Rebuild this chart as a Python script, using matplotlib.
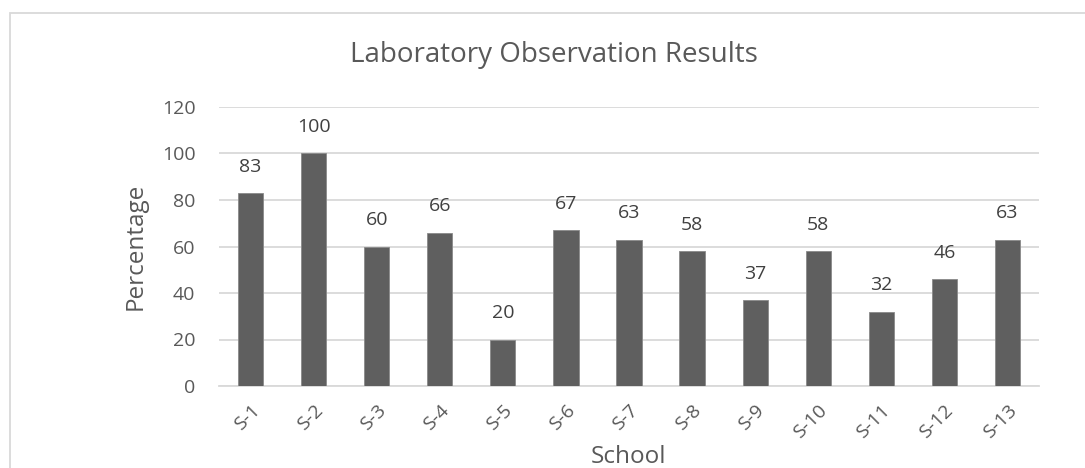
import matplotlib.pyplot as plt
import matplotlib.patches as mpatches

schools = ["S-1", "S-2", "S-3", "S-4", "S-5", "S-6", "S-7", "S-8", "S-9",
           "S-10", "S-11", "S-12", "S-13"]
percentages = [83, 100, 60, 66, 20, 67, 63, 58, 37, 58, 32, 46, 63]
y_ticks = [0, 20, 40, 60, 80, 100, 120]

plt.rcParams['font.family'] = ['Open Sans', 'DejaVu Sans']
text_col = "#595959"

fig = plt.figure(figsize=(10.85, 4.68), dpi=100)
ax = fig.add_axes([219 / 1085, 1 - 386 / 468, 820 / 1085, 279 / 468])

x = range(len(schools))
bars = ax.bar(x, percentages, width=0.4, color="#5f5f5f", edgecolor="#8a8a8a",
              linewidth=0.6, zorder=3)
for xi, v in zip(x, percentages):
    ax.annotate(str(v), (xi, v), xytext=(0, 12.5), textcoords="offset points",
                ha="center", va="bottom", fontsize=14, color="#404040")

ax.set_ylim(0, 120)
ax.set_xlim(-0.5, len(schools) - 0.5)
ax.set_yticks(y_ticks)
ax.set_xticks(list(x))
ax.set_xticklabels(schools, rotation=45, ha="right", rotation_mode="anchor")
ax.tick_params(axis="both", length=0, labelsize=14, labelcolor=text_col)
ax.tick_params(axis="y", pad=17)
ax.tick_params(axis="x", pad=11)
ax.grid(axis="y", color="#d9d9d9", linewidth=1.3, zorder=0)
for s in ["top", "right", "left"]:
    ax.spines[s].set_visible(False)
ax.spines["bottom"].set_color("#d9d9d9")
ax.spines["bottom"].set_linewidth(1.3)

ax.set_ylabel("Percentage", fontsize=17.5, color=text_col, labelpad=10)
ax.set_xlabel("School", fontsize=17.5, color=text_col, va="center")
ax.xaxis.set_label_coords(0.5, -71 / 279)
fig.text(554 / 1085, 1 - 55 / 468, "Laboratory Observation Results",
         ha="center", va="center", fontsize=20, color=text_col)

fig.patches.append(mpatches.Rectangle((10 / 1085, -0.1), 1.2, 1 - 13 / 468 + 0.1,
                                      transform=fig.transFigure, fill=False,
                                      edgecolor="#d9d9d9", linewidth=1.3))

fig.savefig("out.png", dpi=100)
